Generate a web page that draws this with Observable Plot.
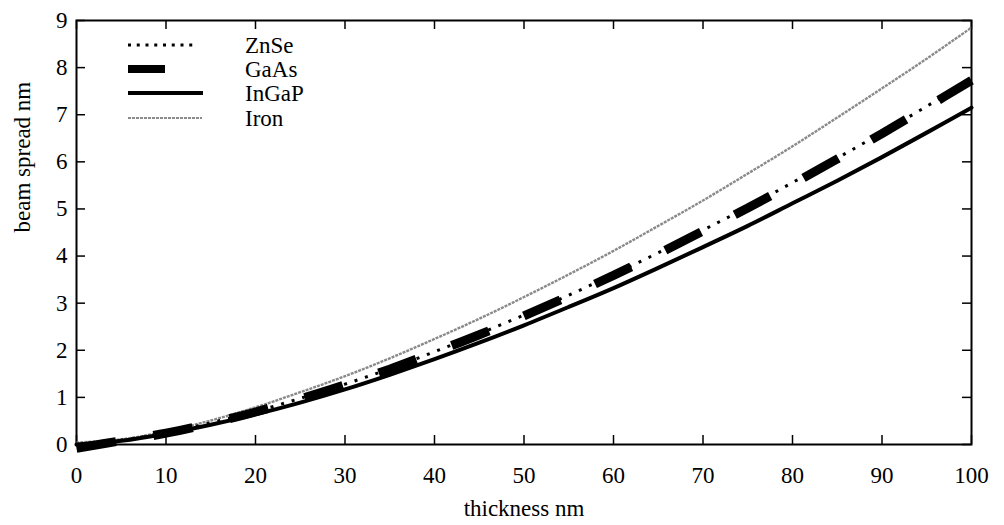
<!DOCTYPE html>
<html>
<head>
<meta charset="utf-8">
<script src="https://cdn.jsdelivr.net/npm/d3@7"></script>
<script src="https://cdn.jsdelivr.net/npm/@observablehq/plot@0.6"></script>
<style>
  html, body { margin: 0; padding: 0; background: #fff; }
  #wrap { position: relative; width: 1004px; height: 525px; }
  #legend { position: absolute; left: 0; top: 0; pointer-events: none; }
  svg, svg text { font-family: "Liberation Serif", "Times New Roman", Times, "DejaVu Serif", serif !important; }
</style>
</head>
<body>
<div id="wrap"></div>
<script>
// thickness (nm)
const thickness = [0, 5, 10, 15, 20, 25, 30, 35, 40, 45, 50, 55, 60, 65, 70, 75, 80, 85, 90, 95, 100];
// beam spread (nm)
const znse  = [0.00, 0.09, 0.25, 0.46, 0.70, 0.98, 1.28, 1.61, 1.97, 2.35, 2.75, 3.17, 3.61, 4.07, 4.55, 5.04, 5.56, 6.08, 6.62, 7.18, 7.76];
const gaas  = [-0.08, 0.08, 0.24, 0.45, 0.69, 0.97, 1.27, 1.60, 1.96, 2.33, 2.73, 3.15, 3.59, 4.05, 4.53, 5.02, 5.53, 6.06, 6.60, 7.16, 7.73];
const ingap = [0.00, 0.08, 0.23, 0.42, 0.64, 0.89, 1.17, 1.48, 1.81, 2.16, 2.53, 2.92, 3.32, 3.75, 4.19, 4.64, 5.12, 5.60, 6.10, 6.62, 7.15];
const iron  = [0.04, 0.11, 0.28, 0.51, 0.79, 1.11, 1.45, 1.83, 2.24, 2.67, 3.13, 3.61, 4.11, 4.64, 5.18, 5.75, 6.33, 6.94, 7.56, 8.19, 8.85];

const xTicks = [0, 10, 20, 30, 40, 50, 60, 70, 80, 90, 100];
const yTicks = [0, 1, 2, 3, 4, 5, 6, 7, 8, 9];
const seriesNames = ["ZnSe", "GaAs", "InGaP", "Iron"];

const toRows = (ys) => thickness.map((t, i) => ({t, v: ys[i]}));

const FONT = '"Liberation Serif", "Times New Roman", Times, serif';
const W = 1004, H = 525;
const mL = 76, mR = 33, mT = 20, mB = 81;
const plotH = H - mT - mB, plotW = W - mL - mR;
const tick = 9;

const chart = Plot.plot({
  width: W, height: H,
  marginLeft: mL, marginRight: mR, marginTop: mT, marginBottom: mB,
  style: {fontFamily: FONT, fontSize: "23px", color: "#000", background: "#fff"},
  x: {domain: [0, 100]},
  y: {domain: [0, 9]},
  marks: [
    // axis labels
    Plot.axisX(xTicks, {tickSize: 0, tickPadding: 22, fontSize: 23, fontFamily: FONT, label: null}),
    Plot.axisY(yTicks, {tickSize: 0, tickPadding: 9, fontSize: 23, fontFamily: FONT, label: null}),
    Plot.text(["thickness nm"], {frameAnchor: "bottom", dy: 71, lineAnchor: "bottom", fontSize: 23, fontFamily: FONT}),
    Plot.text(["beam spread nm"], {frameAnchor: "left", dx: -54, rotate: -90, fontSize: 23, fontFamily: FONT}),
    // inward ticks
    Plot.ruleX(xTicks, {x: d => d, insetTop: plotH - tick, strokeWidth: 1.5}),
    Plot.ruleX(xTicks, {x: d => d, insetBottom: plotH - tick, strokeWidth: 1.5}),
    Plot.ruleY(yTicks, {y: d => d, insetRight: plotW - tick, strokeWidth: 1.5}),
    Plot.ruleY(yTicks, {y: d => d, insetLeft: plotW - tick, strokeWidth: 1.5}),
    Plot.frame({stroke: "#000", strokeWidth: 2}),
    // series
    Plot.line(toRows(iron), {x: "t", y: "v", stroke: "#8a8a8a", strokeWidth: 2.4, strokeDasharray: "3,1", strokeLinecap: "butt", curve: "catmull-rom"}),
    Plot.line(toRows(ingap), {x: "t", y: "v", stroke: "#000", strokeWidth: 4, curve: "catmull-rom"}),
    Plot.line(toRows(gaas), {x: "t", y: "v", stroke: "#000", strokeWidth: 9, strokeDasharray: "40,38", strokeLinecap: "butt", strokeLinejoin: "miter", curve: "catmull-rom"}),
    Plot.line(toRows(znse), {x: "t", y: "v", stroke: "#000", strokeWidth: 3, strokeDasharray: "3,8", strokeLinecap: "butt", curve: "catmull-rom"})
  ]
});

const wrap = document.getElementById("wrap");
wrap.appendChild(chart);

// legend overlay (inside the plot, upper left)
const ns = "http://www.w3.org/2000/svg";
const leg = document.createElementNS(ns, "svg");
leg.setAttribute("id", "legend");
leg.setAttribute("width", W);
leg.setAttribute("height", H);
const legStyles = [
  {y: 45, x2: 198, stroke: "#000", width: 3, dash: "3,5.75"},
  {y: 69, x2: 165, stroke: "#000", width: 8, dash: null},
  {y: 93, x2: 203, stroke: "#000", width: 4, dash: null},
  {y: 118, x2: 202, stroke: "#8a8a8a", width: 2, dash: "3,1"}
];
seriesNames.forEach((name, i) => {
  const s = legStyles[i];
  const ln = document.createElementNS(ns, "line");
  ln.setAttribute("x1", 128); ln.setAttribute("x2", s.x2);
  ln.setAttribute("y1", s.y); ln.setAttribute("y2", s.y);
  ln.setAttribute("stroke", s.stroke);
  ln.setAttribute("stroke-width", s.width);
  if (s.dash) ln.setAttribute("stroke-dasharray", s.dash);
  leg.appendChild(ln);
  const tx = document.createElementNS(ns, "text");
  tx.setAttribute("x", 245);
  tx.setAttribute("y", s.y);
  tx.setAttribute("dy", "0.35em");
  tx.setAttribute("font-size", 23);
  tx.setAttribute("font-family", FONT);
  tx.textContent = name;
  leg.appendChild(tx);
});
wrap.appendChild(leg);
</script>
</body>
</html>
